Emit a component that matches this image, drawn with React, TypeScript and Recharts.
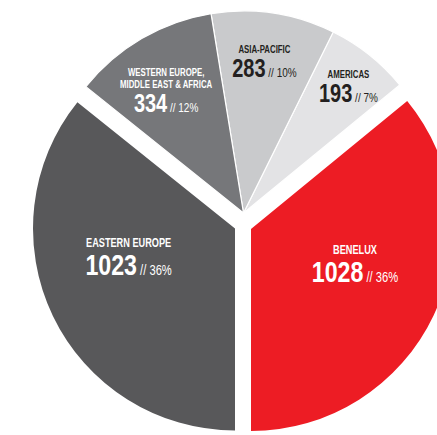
import * as React from 'react';
import { PieChart, Pie, Cell } from 'recharts';

// regions, counter-clockwise from the bottom (6 o'clock)
const regions = [
  'BENELUX',
  'AMERICAS',
  'ASIA-PACIFIC',
  'WESTERN EUROPE,|MIDDLE EAST & AFRICA',
  'EASTERN EUROPE',
];
const headcount = [1028, 193, 283, 334, 1023];

const colors = ['#ed1c24', '#e3e3e5', '#c9cacc', '#76777a', '#58585a'];
const textColors = ['#ffffff', '#231f20', '#231f20', '#ffffff', '#ffffff'];

// which exploded wedge each region sits in: 0 benelux, 1 eastern europe, 2 the rest
const wedgeOf = [0, 2, 2, 2, 1];
const wedgeCenters = [
  { cx: 251, cy: 229 },
  { cx: 235, cy: 228.5 },
  { cx: 243.5, cy: 213 },
];

// label anchor (number baseline) as radius ratio + angle nudge
const labelPos = [
  { r: 0.578, da: -1.7, big: true },
  { r: 0.756, da: -4.9, big: false },
  { r: 0.68, da: -0.2, big: false },
  { r: 0.63, da: 7.2, big: false },
  { r: 0.575, da: -2, big: true },
];

const FONT = "'Liberation Sans', Arial, sans-serif";
const RADIAN = Math.PI / 180;

const data = regions.map((name, i) => ({ name, value: headcount[i] }));

const makeLabel = (wedge: number) => (props: any) => {
  const { cx, cy, midAngle, outerRadius, index, percent, value } = props;
  if (wedgeOf[index] !== wedge) return null;
  const pos = labelPos[index];
  const a = (midAngle + pos.da) * RADIAN;
  const x = cx + outerRadius * pos.r * Math.cos(a);
  const y = cy - outerRadius * pos.r * Math.sin(a);
  const titles = regions[index].split('|');
  const titleSize = pos.big ? 13.5 : 11.5;
  const numSize = pos.big ? 29 : 25;
  const pctSize = pos.big ? 14 : 12.5;
  const gap = pos.big ? 28.5 : 24;
  const numScale = pos.big ? 0.8 : 0.8;
  const fill = textColors[index];
  return (
    <g fontFamily={FONT} fontWeight="bold" fill={fill}>
      {titles.map((t, k) => (
        <text
          key={k}
          transform={`translate(${x}, ${y - gap - (titles.length - 1 - k) * 11.5}) scale(0.68, 1)`}
          textAnchor="middle"
          fontSize={titleSize}
        >
          {t}
        </text>
      ))}
      <text transform={`translate(${x}, ${y}) scale(${numScale}, 1)`} textAnchor="middle">
        <tspan fontSize={numSize}>{value}</tspan>
        <tspan fontSize={pctSize} fontWeight="normal">{`  // ${Math.round(percent * 100)}%`}</tspan>
      </text>
    </g>
  );
};

export default function App() {
  return (
    <div
      style={{
        position: 'absolute',
        left: 0,
        top: 0,
        width: 437,
        height: 435,
        overflow: 'hidden',
        background: '#fff',
      }}
    >
      <PieChart width={437} height={435} margin={{ top: 0, right: 0, bottom: 0, left: 0 }}>
        {wedgeCenters.map((c, w) => (
          <Pie
            key={w}
            data={data}
            dataKey="value"
            nameKey="name"
            cx={c.cx}
            cy={c.cy}
            outerRadius={202}
            startAngle={-90}
            endAngle={270}
            isAnimationActive={false}
            label={makeLabel(w)}
            labelLine={false}
          >
            {data.map((d, i) => (
              <Cell
                key={d.name}
                fill={wedgeOf[i] === w ? colors[i] : 'none'}
                stroke={wedgeOf[i] === w && w === 2 ? '#ffffff' : 'none'}
                strokeWidth={1.2}
              />
            ))}
          </Pie>
        ))}
      </PieChart>
    </div>
  );
}
